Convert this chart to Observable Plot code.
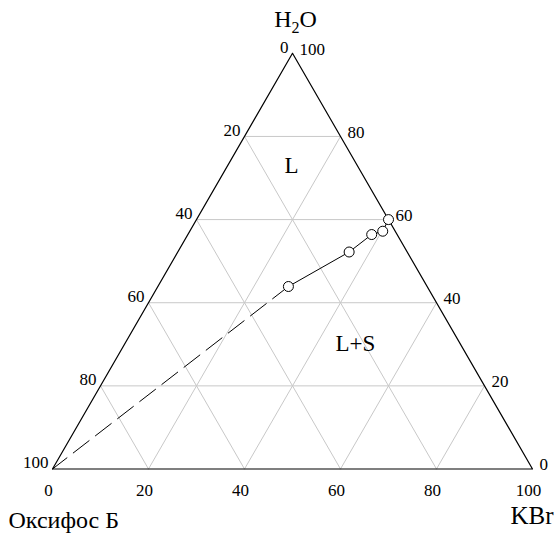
<!DOCTYPE html>
<html><head><meta charset="utf-8">
<script src="https://cdn.jsdelivr.net/npm/d3@7"></script>
<script src="https://cdn.jsdelivr.net/npm/@observablehq/plot@0.6"></script>
<style>body{margin:0;background:#fff}</style>
</head><body><div id="chart"></div>
<script>
// Ternary axes: H2O (top), Оксифос Б (bottom-left), KBr (bottom-right), in mass %
const ticks = [0, 20, 40, 60, 80, 100];
const gridValues = [20, 40, 60, 80];
// Experimental points (H2O %, KBr %); Оксифос Б = 100 - H2O - KBr
const pointH2O = [60, 57.2, 56.4, 52.2, 43.9];
const pointKBr = [40, 40.2, 38.3, 35.7, 27.2];
// Extrapolated (dashed) part of the curve to the Оксифос Б corner
const dashH2O = [43.9, 0];
const dashKBr = [27.2, 0];
// Region labels
const regionNames = ["L", "L+S"];
const regionH2O = [73, 30.2];
const regionKBr = [13.3, 48];
// Vertex names
const vertexNames = ["H2O", "Оксифос Б", "KBr"];

const S3 = Math.sqrt(3) / 2;
const px = (h, k) => k / 100 + h / 200;
const py = (h) => h / 100 * S3;
const P = (h, k) => ({x: px(h, k), y: py(h)});

const grid = [];
gridValues.forEach((v, i) => {
  grid.push({g: "h" + i, ...P(v, 0)}, {g: "h" + i, ...P(v, 100 - v)});
  grid.push({g: "k" + i, ...P(0, v)}, {g: "k" + i, ...P(100 - v, v)});
  grid.push({g: "o" + i, ...P(0, 100 - v)}, {g: "o" + i, ...P(100 - v, 0)});
});
const frame = [P(100, 0), P(0, 0), P(0, 100), P(100, 0)];
const pts = pointH2O.map((h, i) => P(h, pointKBr[i]));
const dash = dashH2O.map((h, i) => P(h, dashKBr[i]));
const bottomLabels = ticks.map(t => ({...P(0, t), t}));
const leftLabels = ticks.map(t => ({...P(100 - t, 0), t}));
const rightLabels = ticks.map(t => ({...P(t, 100 - t), t}));
const regions = regionNames.map((n, i) => ({...P(regionH2O[i], regionKBr[i]), n}));
const vtx = [P(100, 0), P(0, 0), P(0, 100)];
const font = "Liberation Serif";

const chart = Plot.plot({
  width: 556, height: 540,
  marginLeft: 52, marginRight: 24, marginTop: 52.8, marginBottom: 71.5,
  x: {domain: [0, 1], axis: null},
  y: {domain: [0, S3], axis: null},
  style: {fontFamily: font, background: "#fff"},
  marks: [
    Plot.line(grid, {x: "x", y: "y", z: "g", stroke: "#c8c8c8", strokeWidth: 1}),
    Plot.line(frame, {x: "x", y: "y", stroke: "#000", strokeWidth: 1.2}),
    Plot.line(pts, {x: "x", y: "y", stroke: "#000", strokeWidth: 1}),
    Plot.line(dash, {x: "x", y: "y", stroke: "#000", strokeWidth: 1, strokeDasharray: "20,8"}),
    Plot.dot(pts, {x: "x", y: "y", r: 5, fill: "#fff", stroke: "#000", strokeWidth: 1}),
    Plot.text(bottomLabels, {x: "x", y: "y", text: d => String(d.t), dx: -4, dy: 22, fontSize: 17, fill: "#000", fontFamily: font}),
    Plot.text(leftLabels, {x: "x", y: "y", text: d => String(d.t), textAnchor: "end", dx: -4, dy: -6, fontSize: 17, fill: "#000", fontFamily: font}),
    Plot.text(rightLabels, {x: "x", y: "y", text: d => String(d.t), textAnchor: "start", dx: 7, dy: -4, fontSize: 17, fill: "#000", fontFamily: font}),
    Plot.text(regions, {x: "x", y: "y", text: "n", fontSize: 23, fill: "#000", fontFamily: font}),
    Plot.text([vtx[0]], {x: "x", y: "y", text: () => vertexNames[0], dx: 3, dy: -34, fontSize: 24, fill: "#000", fontFamily: font}),
    Plot.text([vtx[1]], {x: "x", y: "y", text: () => vertexNames[1], textAnchor: "start", dx: -44, dy: 51, fontSize: 24, fill: "#000", fontFamily: font}),
    Plot.text([vtx[2]], {x: "x", y: "y", text: () => vertexNames[2], textAnchor: "end", dx: 21, dy: 47, fontSize: 25, fill: "#000", fontFamily: font})
  ]
});
document.getElementById("chart").appendChild(chart);
// Subscript the "2" in H2O
d3.select(chart).selectAll("text").each(function() {
  if (this.textContent === "H2O") {
    const t = d3.select(this);
    t.text(null);
    t.append("tspan").text("H");
    t.append("tspan").attr("font-size", "16").attr("dy", "6").text("2");
    t.append("tspan").attr("dy", "-6").text("O");
  }
});
</script>
</body></html>
